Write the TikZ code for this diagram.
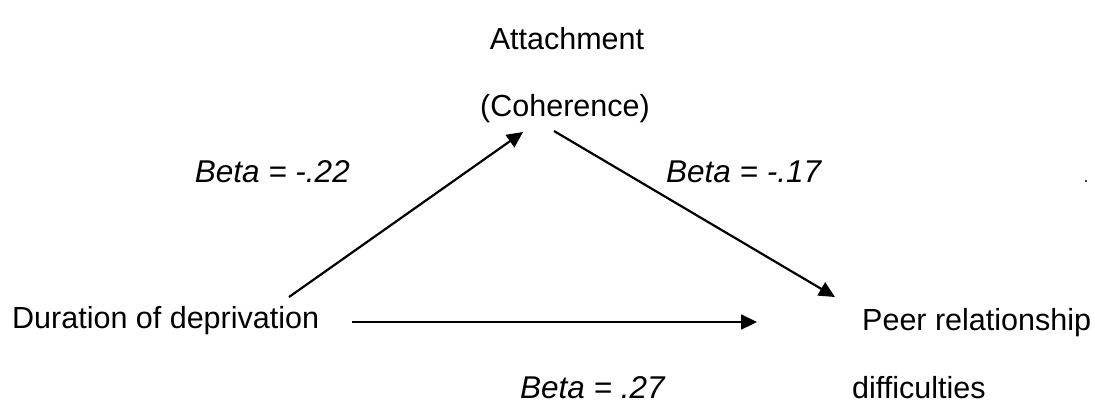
\documentclass[tikz,border=0pt]{standalone}
\usepackage{fontspec}
\setmainfont{Liberation Sans}
\usetikzlibrary{arrows.meta}
\tikzset{
  lbl/.style={inner sep=0pt, font=\fontsize{30.5}{36}\selectfont},
  coef/.style={inner sep=0pt, font=\fontsize{31.5}{36}\selectfont\itshape},
  path/.style={line width=2.2pt, -{Triangle[length=16pt,width=15pt]}},
}
\begin{document}
\begin{tikzpicture}[x=1pt,y=-1pt]
  \useasboundingbox (0,0) rectangle (1095,405);

  % variables
  \node[lbl, anchor=base] (att1) at (567,49) {Attachment};
  \node[lbl, anchor=base] (att2) at (565,116) {(Coherence)};
  \node[lbl, anchor=base west] (dur) at (12,328) {Duration of deprivation};
  \node[lbl, anchor=base west] (peer1) at (862,330) {Peer relationship};
  \node[lbl, anchor=base west] (peer2) at (852,398) {difficulties};

  % path coefficients
  \node[coef, anchor=base east] (b1) at (350,182) {Beta = -.22};
  \node[coef, anchor=base west] (b2) at (666,182) {Beta = -.17};
  \node[coef, anchor=base west] (b3) at (520,398) {Beta = .27};

  % stray mark
  \fill (1086,181) circle (1.2pt);

  % arrow end points
  \coordinate (d1) at (289,297);
  \coordinate (a1) at (523,132);
  \coordinate (a2) at (554,131);
  \coordinate (p1) at (835,297);
  \coordinate (d2) at (352,322);
  \coordinate (p2) at (757,322);

  \draw[path] (d1) -- (a1);
  \draw[path] (a2) -- (p1);
  \draw[path] (d2) -- (p2);
\end{tikzpicture}
\end{document}
